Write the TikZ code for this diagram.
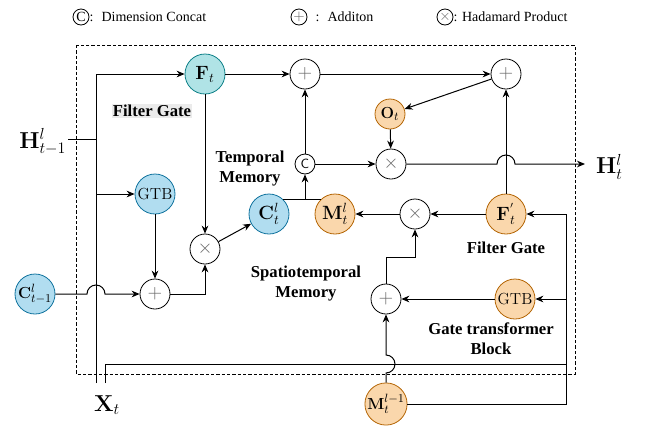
\documentclass[tikz,border=0pt]{standalone}
\usepackage[no-math]{fontspec}
\setmainfont{Liberation Serif}
\usepackage{amsmath, amssymb}
\usetikzlibrary{arrows.meta}

\definecolor{tealfill}{HTML}{B0E3E6}
\definecolor{tealline}{HTML}{0E8088}
\definecolor{bluefill}{HTML}{B1DDF0}
\definecolor{blueline}{HTML}{10739E}
\definecolor{orangefill}{HTML}{FAD7AC}
\definecolor{orangeline}{HTML}{B46504}

\tikzset{
  cell/.style={circle, draw, line width=0.6pt, minimum size=30pt, inner sep=0pt, font=\fontsize{14}{16}\selectfont},
  tealcell/.style={cell, draw=tealline, fill=tealfill},
  bluecell/.style={cell, draw=blueline, fill=bluefill},
  orangecell/.style={cell, draw=orangeline, fill=orangefill},
  op/.style={circle, draw, fill=white, line width=0.6pt, minimum size=22.5pt, inner sep=0pt, text=black!60, font=\fontsize{14}{14}\selectfont},
  concat/.style={circle, draw, fill=white, line width=0.6pt, minimum size=15pt, inner sep=0pt, font=\fontsize{10}{10}\selectfont\sffamily},
  tag/.style={font=\fontsize{12.5}{15}\selectfont\bfseries, align=center},
  big/.style={font=\fontsize{17}{19}\selectfont},
  arr/.style={-{Stealth[length=6pt,width=5pt]}},
}

\begin{document}
\begin{tikzpicture}[x=0.75pt, y=-0.75pt, line width=0.75pt]
    \useasboundingbox (0,0) rectangle (651,444);

    % --- Legende (haut) ---
    \node[concat, minimum size=12pt, font=\fontsize{10.5}{10}\selectfont] (legc) at (81,17) {C};
    \node[anchor=west, inner sep=0pt, font=\fontsize{10.5}{12}\selectfont] (legctxt) at (89,17) {: \ Dimension Concat};
    \node[op, minimum size=12pt, font=\fontsize{11}{11}\selectfont] (legp) at (299,17) {$+$};
    \node[anchor=west, inner sep=0pt, font=\fontsize{10.5}{12}\selectfont] (legptxt) at (315,17) {: \ Additon};
    \node[op, minimum size=12pt, font=\fontsize{11}{11}\selectfont] (legx) at (445,17) {$\times$};
    \node[anchor=west, inner sep=0pt, font=\fontsize{10.5}{12}\selectfont] (legxtxt) at (453,17) {: Hadamard Product};

    % --- Cadre de la cellule ---
    \draw[dash pattern=on 2.5pt off 1.5pt, line width=0.6pt] (76,45) rectangle (575,374);

    % --- Entrees ---
    \node[big, anchor=east, inner sep=1pt] (hprev) at (68,142) {$\mathbf{H}^{l}_{t-1}$};
    \node[big] (xt) at (107,405) {$\mathbf{X}_t$};
    \node[bluecell, font=\fontsize{12.5}{14}\selectfont] (cprev) at (35,294) {$\mathbf{C}^{l}_{t-1}$};
    \node[orangecell, font=\fontsize{12.5}{14}\selectfont] (mprev) at (386,404) {$\mathbf{M}^{l-1}_{t}$};

    % --- Memoire temporelle (gauche) ---
    \node[tealcell] (ft) at (205,74) {$\mathbf{F}_t$};
    \node[bluecell, font=\fontsize{12}{14}\selectfont] (gtba) at (155,194) {$\mathrm{GTB}$};
    \node[op] (times1) at (205,249) {$\times$};
    \node[op] (plus3) at (155,294) {$+$};
    \node[bluecell] (ct) at (269,214) {$\mathbf{C}^{l}_{t}$};

    % --- Sortie (haut) ---
    \node[op] (plus1) at (305,74) {$+$};
    \node[op] (plus2) at (506,74) {$+$};
    \node[orangecell, minimum size=22.5pt, font=\fontsize{12.5}{14}\selectfont] (ot) at (390,114) {$\mathbf{O}_t$};
    \node[concat] (cc) at (305,164) {C};
    \node[op] (times3) at (391,164) {$\times$};

    % --- Memoire spatio-temporelle (droite) ---
    \node[orangecell] (mt) at (335,214) {$\mathbf{M}^{l}_{t}$};
    \node[op] (times2) at (415,214) {$\times$};
    \node[orangecell] (fp) at (506,214) {$\mathbf{F}^{'}_{t}$};
    \node[op] (plus4) at (386,299) {$+$};
    \node[orangecell, font=\fontsize{12}{14}\selectfont] (gtbo) at (515,299) {$\mathrm{GTB}$};

    % --- Etiquettes ---
    \node[tag, fill=black!8, inner sep=1pt] (lfg1) at (152,111) {Filter Gate};
    \node[tag] (ltm) at (250,169) {Temporal\\Memory};
    \node[tag] (lstm) at (306,284) {Spatiotemporal\\Memory};
    \node[tag] (lfg2) at (506,248) {Filter Gate};
    \node[tag] (lgtb) at (491,339) {Gate transformer\\Block};

    % --- Bus H et X ---
    \coordinate (bustop) at (96,74);
    \coordinate (busbot) at (96,383);
    \coordinate (hjoin) at (96,139);
    \draw (hjoin -| hprev.east) -- (hjoin);
    \draw (busbot) -- (bustop);
    \draw[arr] (bustop) -- (ft);
    \draw[arr] (bustop |- gtba) -- (gtba);
    \draw (105,383) -- (105,364) -- (566,364);

    % --- Chemin temporel ---
    \draw[arr] (ft) -- (times1);
    \draw[arr] (gtba) -- (plus3);
    \draw[arr] (cprev) -- (87,294) arc (180:360:9) -- (plus3);
    \draw[arr] (plus3) -| (times1);
    \draw[arr] (times1) -- (ct);
    \draw (ct.45) -- (mt.135);
    \draw[arr] (cc |- ct.45) -- (cc);

    % --- Chemin de sortie ---
    \draw[arr] (ft) -- (plus1);
    \draw[arr] (cc) -- (plus1);
    \draw[arr] (plus1) -- (plus2);
    \draw[arr] (plus2) -- (ot);
    \draw[arr] (ot) -- (times3);
    \draw[arr] (cc) -- (times3);
    \draw[arr] (times3) -- (497,164) arc (180:360:9) -- (585,164) coordinate (hout);
    \node[big, anchor=west, inner sep=1pt] (ht) at ([xshift=7pt,yshift=-2pt]hout) {$\mathbf{H}^{l}_{t}$};
    \draw[arr] (fp) -- (plus2);

    % --- Chemin spatio-temporel ---
    \draw[arr] (fp) -- (times2);
    \draw[arr] (times2) -- (mt);
    \coordinate (mjoin) at (415,257);
    \draw[arr] (plus4) |- (mjoin) -- (times2);
    \draw[arr] (gtbo) -- (plus4);
    \draw[arr] (mprev) -- (386,373) arc (90:-90:9) -- (plus4);
    \draw[arr] (mprev) -- (566,404) -- (566,214) -- (fp);
    \draw[arr] (566,299) -- (gtbo);

\end{tikzpicture}
\end{document}
